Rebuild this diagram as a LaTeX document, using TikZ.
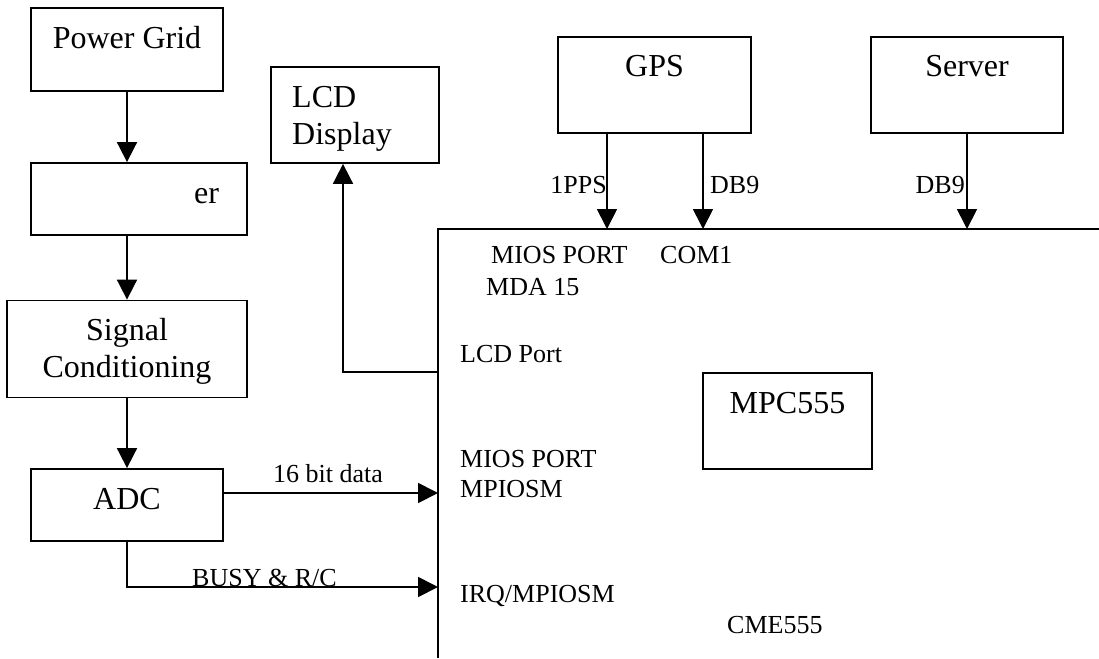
\documentclass[tikz,border=0pt]{standalone}
\usepackage{fontspec}
\setmainfont{Liberation Serif}
\usetikzlibrary{arrows.meta}

\tikzset{
  box/.style={draw, line width=1.8pt, inner sep=0pt},
  big/.style={inner sep=0pt, font=\fontsize{32}{37}\selectfont},
  small/.style={inner sep=0pt, font=\fontsize{26}{30}\selectfont},
  wire/.style={line width=1.8pt},
  sig/.style={wire, -{Triangle[length=20pt,width=20pt]}},
}

\begin{document}
\begin{tikzpicture}[x=1pt, y=-1pt]
\useasboundingbox (0,0) rectangle (1099,658);

% blocks
\node[box, minimum width=192pt, minimum height=83pt] (grid) at (127,49.5) {};
\node[box, minimum width=216pt, minimum height=72pt] (filt) at (139,199) {};
\node[box, minimum width=240pt, minimum height=97pt] (cond) at (127,349) {};
\node[box, minimum width=192pt, minimum height=72pt] (adc) at (127,505) {};
\node[box, minimum width=168pt, minimum height=96pt] (lcd) at (355,115) {};
\node[box, minimum width=193pt, minimum height=96pt] (gps) at (654.5,85) {};
\node[box, minimum width=192pt, minimum height=96pt] (server) at (967,85) {};
\node[box, minimum width=169pt, minimum height=96pt] (mpc) at (787.5,421) {};

% block texts
\node[big, anchor=base] (grid-t) at (127,49) {Power Grid};
\node[big, anchor=base west] (filt-t) at (194,203) {er};
\node[big, anchor=base] (cond-t1) at (127,340) {Signal};
\node[big, anchor=base] (cond-t2) at (127,377) {Conditioning};
\node[big, anchor=base] (adc-t) at (127,509) {ADC};
\node[big, anchor=base west] (lcd-t1) at (292,107) {LCD};
\node[big, anchor=base west] (lcd-t2) at (292,144) {Display};
\node[big, anchor=base] (gps-t) at (654.5,77) {GPS};
\node[big, anchor=base] (server-t) at (967,77) {Server};
\node[big, anchor=base] (mpc-t) at (787.5,413) {MPC555};

% board outline
\coordinate (corner) at (438,229);
\coordinate (foot) at (438,658);
\coordinate (edge) at (1099,229);
\draw[wire] (foot) -- (corner) -- (edge);

% port texts
\node[small, anchor=base west] (mios1) at (491,263) {MIOS PORT};
\node[small, anchor=base west] (com1) at (660,263) {COM1};
\node[small, anchor=base west] (mda) at (486,295) {MDA 15};
\node[small, anchor=base west] (lcdport) at (460,362) {LCD Port};
\node[small, anchor=base west] (mios2) at (460,467) {MIOS PORT};
\node[small, anchor=base west] (mpiosm) at (460,497) {MPIOSM};
\node[small, anchor=base west] (irq) at (460,602) {IRQ/MPIOSM};
\node[small, anchor=base west] (cme) at (727,633) {CME555};

% left chain
\draw[sig] (grid.south) -- (grid.south |- filt.north);
\draw[sig] (cond.north |- filt.south) -- (cond.north);
\draw[sig] (cond.south) -- (adc.north);

% adc to board
\coordinate (data) at (438,493);
\coordinate (busy) at (438,587);
\draw[sig] (adc.east |- data) -- (data);
\node[small, anchor=base west] (data-l) at (273,482) {16 bit data};
\draw[sig] (adc.south) |- (busy);
\node[small, anchor=base west] (busy-l) at (192,586) {BUSY \& R/C};

% lcd port
\coordinate (lcdp) at (438,372);
\draw[sig] (lcdp) -| (343,0 |- lcd.south);

% gps and server
\draw[sig] ([xshift=-47.5pt]gps.south) -- ([xshift=-47.5pt]gps.south |- corner);
\draw[sig] ([xshift=48.5pt]gps.south) -- ([xshift=48.5pt]gps.south |- corner);
\draw[sig] (server.south) -- (server.south |- corner);
\node[small, anchor=base east] (pps-l) at (607,193) {1PPS};
\node[small, anchor=base west] (db9-l) at (710,193) {DB9};
\node[small, anchor=base east] (db9-s) at (965,193) {DB9};
\end{tikzpicture}
\end{document}
